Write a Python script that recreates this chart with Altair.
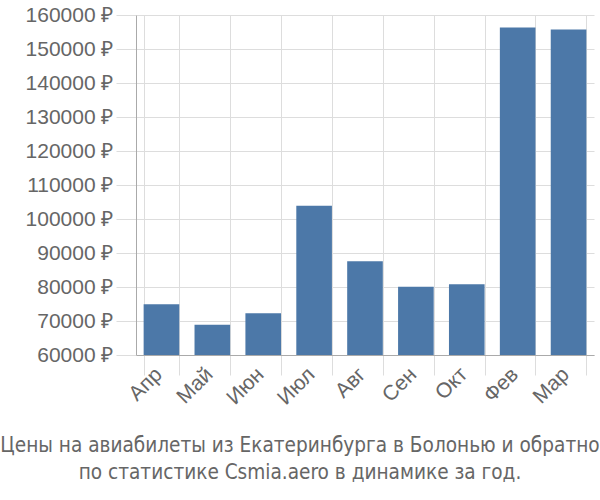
import altair as alt
import pandas as pd

months = ["Апр", "Май", "Июн", "Июл", "Авг", "Сен", "Окт", "Фев", "Мар"]
prices = [74900, 68900, 72300, 103900, 87600, 80100, 80800, 156300, 155700]
title_lines = [
    "Цены на авиабилеты из Екатеринбурга в Болонью и обратно",
    "по статистике Csmia.aero в динамике за год.",
]

df = pd.DataFrame({"month": months, "price": prices})

chart = (
    alt.Chart(df)
    .mark_bar(color="#4c78a8")
    .encode(
        x=alt.X(
            "month:N",
            sort=months,
            title=None,
            scale=alt.Scale(paddingInner=0.3, paddingOuter=0.15),
            axis=alt.Axis(
                labelAngle=-45,
                labelAlign="right",
                labelBaseline="middle",
                labelFontSize=21,
                labelFont="Liberation Sans",
                labelColor="#666666",
                tickBand="extent",
                grid=True,
                gridColor="#dddddd",
                tickColor="#dddddd",
                tickSize=20,
                labelPadding=-4,
                labelOffset=-3,
                domainColor="#aaaaaa",
            ),
        ),
        y=alt.Y(
            "price:Q",
            title=None,
            scale=alt.Scale(domain=[60000, 160000], zero=False, nice=False),
            axis=alt.Axis(
                values=list(range(60000, 160001, 10000)),
                labelExpr="format(datum.value,'d') + ' ₽'",
                labelFontSize=21,
                labelFont="Liberation Sans",
                labelColor="#666666",
                gridColor="#dddddd",
                tickColor="#dddddd",
                tickSize=20,
                labelPadding=3,
                domainColor="#aaaaaa",
            ),
        ),
        y2=alt.datum(60000),
    )
    .properties(
        width=458,
        height=340,
        autosize=alt.AutoSizeParams(type="none"),
        padding={"left": 136, "top": 15, "right": 6, "bottom": 145},
        title=alt.TitleParams(
            text=title_lines,
            orient="bottom",
            anchor="middle",
            fontSize=20.6,
            font="DejaVu Sans Condensed, Liberation Sans",
            fontWeight="normal",
            color="#666666",
            lineHeight=27,
            dx=-65,
            offset=28,
        ),
    )
    .configure_view(stroke=None)
)

chart.save("out.html", embed_options={"renderer": "svg", "actions": False})
